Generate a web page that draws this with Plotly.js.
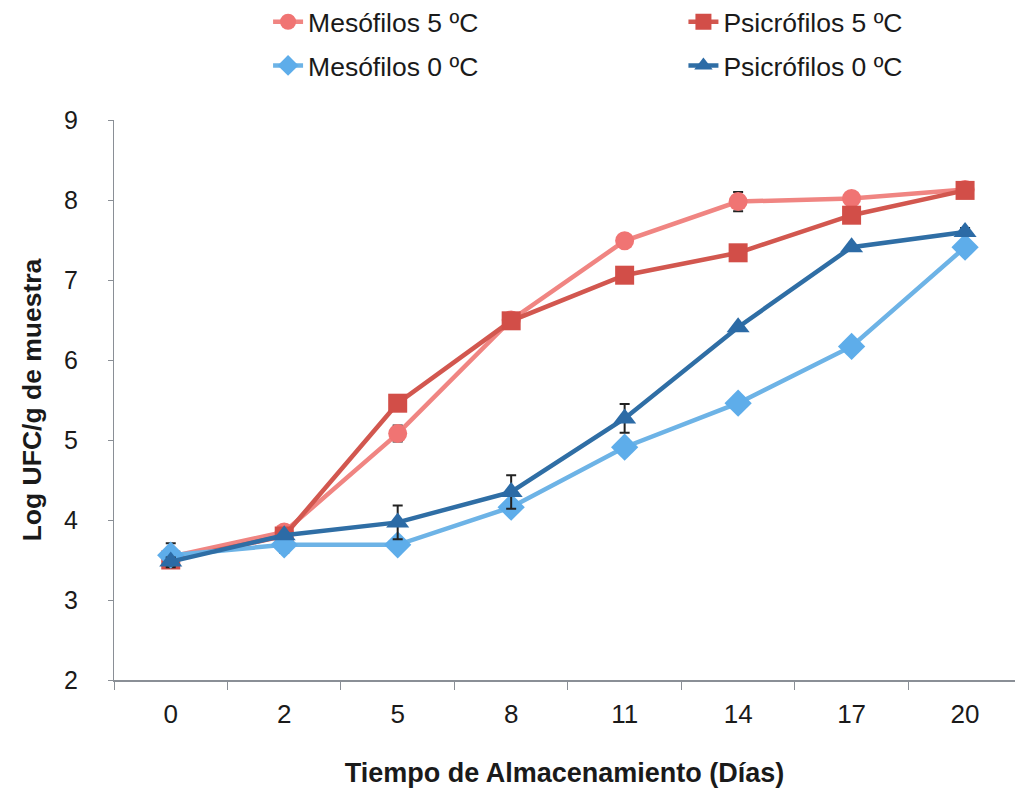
<!DOCTYPE html>
<html>
<head>
<meta charset="utf-8">
<script src="https://cdn.plot.ly/plotly-3.0.1.min.js"></script>
<style>html,body{margin:0;padding:0;background:#fff;}#chart{width:1015px;height:788px;}</style>
</head>
<body>
<div id="chart"></div>
<script>
// Data
const dias = ["0", "2", "5", "8", "11", "14", "17", "20"];
const mesofilos5 = [3.54, 3.85, 5.08, 6.50, 7.49, 7.98, 8.02, 8.13];
const psicrofilos5 = [3.50, 3.80, 5.46, 6.49, 7.06, 7.34, 7.81, 8.12];
const mesofilos0 = [3.56, 3.69, 3.69, 4.16, 4.91, 5.46, 6.17, 7.41];
const psicrofilos0 = [3.48, 3.81, 3.97, 4.35, 5.27, 6.41, 7.41, 7.60];
const errMesofilos5 = [0.05, 0.05, 0.1, 0, 0, 0.12, 0, 0];
const errPsicrofilos5 = [0, 0, 0.05, 0, 0, 0, 0, 0];
const errMesofilos0 = [0.15, 0.1, 0, 0, 0, 0, 0, 0];
const errPsicrofilos0 = [0.05, 0, 0.21, 0.21, 0.18, 0, 0, 0.05];
const seriesNames = ["Mesófilos 5 ºC", "Psicrófilos 5 ºC", "Mesófilos 0 ºC", "Psicrófilos 0 ºC"];

const font = "Liberation Sans, Arial, sans-serif";
const narrowFont = "Liberation Sans Narrow, Arial Narrow, Liberation Sans, Arial, sans-serif";

function trace(name, y, err, lineColor, markerColor, symbol, size, legend) {
  return {
    type: "scatter", mode: "lines+markers", name: name,
    x: dias, y: y, legend: legend,
    line: {color: lineColor, width: 4.5},
    marker: {color: markerColor, symbol: symbol, size: size},
    error_y: {type: "data", array: err, visible: true, color: "#222222", thickness: 2, width: 5},
    cliponaxis: false
  };
}

const data = [
  trace(seriesNames[0], mesofilos5, errMesofilos5, "#F08582", "#F07473", "circle", 19, "legend"),
  trace(seriesNames[1], psicrofilos5, errPsicrofilos5, "#D2574F", "#D24E48", "square", 19, "legend2"),
  trace(seriesNames[2], mesofilos0, errMesofilos0, "#6DB3E6", "#5EADEA", "diamond", 21, "legend3"),
  trace(seriesNames[3], psicrofilos0, errPsicrofilos0, "#2F6EA5", "#2C6BA6", "triangle-up", 20, "legend4")
];

function leg(x, y) {
  return {x: x, y: y, xanchor: "left", yanchor: "middle", orientation: "h",
    font: {family: font, size: 26.5, color: "#1a1a1a"}, bgcolor: "rgba(0,0,0,0)"};
}

// invisible spacer after each y tick label, to open the gap to the axis
const SPACER = '<span style="color:rgba(0,0,0,0);font-size:22px">00</span>';

const layout = {
  width: 1015, height: 788,
  margin: {l: 114, r: 0, t: 120, b: 108, autoexpand: false},
  paper_bgcolor: "#ffffff", plot_bgcolor: "#ffffff",
  font: {family: font, color: "#1a1a1a"},
  showlegend: true,
  legend: leg(0.171, 1.175),
  legend2: leg(0.632, 1.175),
  legend3: leg(0.171, 1.097),
  legend4: leg(0.632, 1.097),
  xaxis: {
    type: "category", range: [-0.5, 7.44],
    tickson: "boundaries", ticks: "outside", ticklen: 8, tickcolor: "#8a8f96", tickwidth: 1,
    showline: true, linecolor: "#8a8f96", linewidth: 1.5,
    showgrid: false, zeroline: false,
    tickfont: {family: narrowFont, size: 26, color: "#1a1a1a"},
    ticklabelstandoff: 10,
    title: {text: "Tiempo de Almacenamiento (Días)", font: {family: font, size: 27, color: "#1a1a1a", weight: "bold"}, standoff: 38},
    automargin: false
  },
  yaxis: {
    range: [2, 9], dtick: 1, tick0: 2,
    ticks: "outside", ticklen: 5, tickcolor: "#8a8f96", tickwidth: 1,
    showline: true, linecolor: "#8a8f96", linewidth: 1.5,
    showgrid: false, zeroline: false,
    tickfont: {family: font, size: 25, color: "#1a1a1a"},
    ticksuffix: SPACER,
    title: {text: "Log UFC/g de muestra", font: {family: font, size: 26.5, color: "#1a1a1a", weight: "bold"}, standoff: 15},
    automargin: false
  }
};

Plotly.newPlot("chart", data, layout, {displayModeBar: false, staticPlot: true});
</script>
</body>
</html>
